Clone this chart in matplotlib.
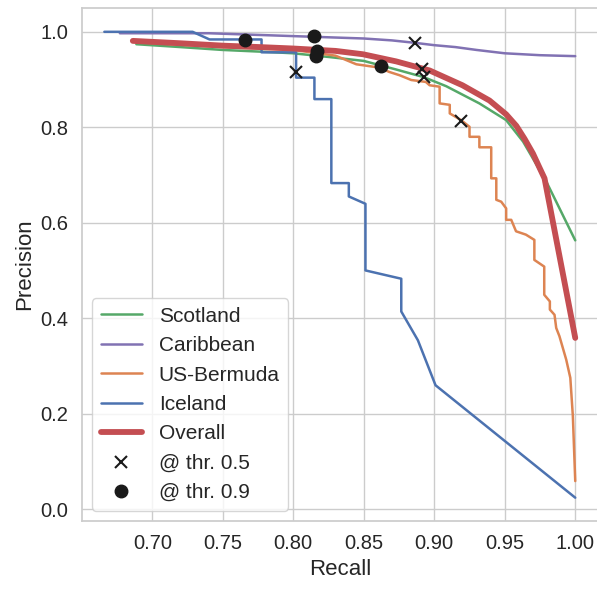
import matplotlib
matplotlib.use("Agg")
import matplotlib.pyplot as plt
import seaborn as sns

sns.set_theme(style="whitegrid")
plt.rcParams['font.family'] = ['Liberation Sans', 'DejaVu Sans']

pal = sns.color_palette("deep")

# precision-recall curves
scot_rec = [0.6887, 0.72, 0.75, 0.78, 0.80, 0.826, 0.85, 0.873, 0.8926, 0.9085, 0.932, 0.951, 0.963, 0.9795, 1.0]
scot_prec = [0.974, 0.968, 0.962, 0.958, 0.955, 0.947, 0.939, 0.921, 0.905, 0.886, 0.850, 0.815, 0.770, 0.686, 0.563]

carib_rec = [0.677, 0.74, 0.78, 0.80, 0.83, 0.85, 0.87, 0.886, 0.90, 0.915, 0.93, 0.95, 0.975, 1.0]
carib_prec = [0.997, 0.997, 0.993, 0.991, 0.988, 0.986, 0.982, 0.977, 0.972, 0.968, 0.962, 0.955, 0.951, 0.949]

usb_rec = [0.69, 0.75, 0.80, 0.83, 0.8447, 0.861, 0.868, 0.8754, 0.8837, 0.894, 0.8967, 0.9038, 0.9038,
           0.911, 0.911, 0.919, 0.925, 0.925, 0.932, 0.932, 0.9404, 0.9404, 0.944, 0.944, 0.9475, 0.951,
           0.951, 0.9546, 0.958, 0.965, 0.971, 0.971, 0.978, 0.978, 0.982, 0.982, 0.9853, 0.9865, 0.9888,
           0.9936, 0.9965, 0.9983, 1.0]
usb_prec = [0.978, 0.968, 0.962, 0.950, 0.932, 0.925, 0.916, 0.909, 0.899, 0.895, 0.888, 0.885, 0.850,
            0.847, 0.829, 0.815, 0.801, 0.780, 0.780, 0.758, 0.758, 0.693, 0.693, 0.648, 0.644, 0.630,
            0.606, 0.606, 0.582, 0.575, 0.564, 0.522, 0.508, 0.449, 0.435, 0.418, 0.407, 0.3795, 0.362,
            0.313, 0.275, 0.195, 0.0586]

ice_rec = [0.666, 0.7286, 0.7406, 0.7775, 0.7775, 0.802, 0.802, 0.815, 0.815, 0.827, 0.827, 0.8394, 0.8394,
           0.8512, 0.8512, 0.8766, 0.8766, 0.8884, 0.9009, 1.0]
ice_prec = [1.0, 1.0, 0.984, 0.984, 0.957, 0.957, 0.904, 0.904, 0.859, 0.859, 0.683, 0.683, 0.655,
            0.6396, 0.500, 0.4826, 0.414, 0.3536, 0.2594, 0.0238]

all_rec = [0.6862, 0.72, 0.75, 0.7763, 0.80, 0.83, 0.8494, 0.873, 0.8967, 0.920, 0.9392, 0.951, 0.9582,
           0.964, 0.970, 0.9747, 0.9782, 1.0]
all_prec = [0.981, 0.976, 0.971, 0.968, 0.965, 0.960, 0.953, 0.938, 0.919, 0.888, 0.856, 0.827, 0.803,
            0.776, 0.745, 0.715, 0.693, 0.3586]

# operating points: Scotland, Caribbean, US-Bermuda, Iceland, Overall
thr05_rec = [0.893, 0.886, 0.919, 0.802, 0.891]
thr05_prec = [0.905, 0.977, 0.813, 0.915, 0.923]
thr09_rec = [0.816, 0.815, 0.862, 0.7655, 0.817]
thr09_prec = [0.949, 0.991, 0.928, 0.982, 0.960]

fig = plt.figure(figsize=(5.97, 5.89), dpi=100)
ax = fig.add_axes([0.137, 0.1155, 0.866, 0.871])

ax.plot(scot_rec, scot_prec, color=pal[2], lw=1.8, label='Scotland')
ax.plot(carib_rec, carib_prec, color=pal[4], lw=1.8, label='Caribbean')
ax.plot(usb_rec, usb_prec, color=pal[1], lw=1.8, label='US-Bermuda')
ax.plot(ice_rec, ice_prec, color=pal[0], lw=1.8, label='Iceland')
ax.plot(all_rec, all_prec, color=pal[3], lw=4.2, label='Overall')
ax.plot(thr05_rec, thr05_prec, 'x', color='k', ms=9, mew=1.5, ls='none', label='@ thr. 0.5')
ax.plot(thr09_rec, thr09_prec, 'o', color='k', ms=9, ls='none', label='@ thr. 0.9')

ax.set_xlim(0.65, 1.0167)
ax.set_ylim(-0.025, 1.05)
ax.set_xticks([0.70, 0.75, 0.80, 0.85, 0.90, 0.95, 1.00])
ax.set_xticklabels(['0.70', '0.75', '0.80', '0.85', '0.90', '0.95', '1.00'])
ax.set_yticks([0.0, 0.2, 0.4, 0.6, 0.8, 1.0])
ax.tick_params(labelsize=14.5)
ax.set_xlabel('Recall', fontsize=16)
ax.set_ylabel('Precision', fontsize=16)
ax.legend(loc='lower left', fontsize=15)

fig.savefig('out.png', dpi=100)
